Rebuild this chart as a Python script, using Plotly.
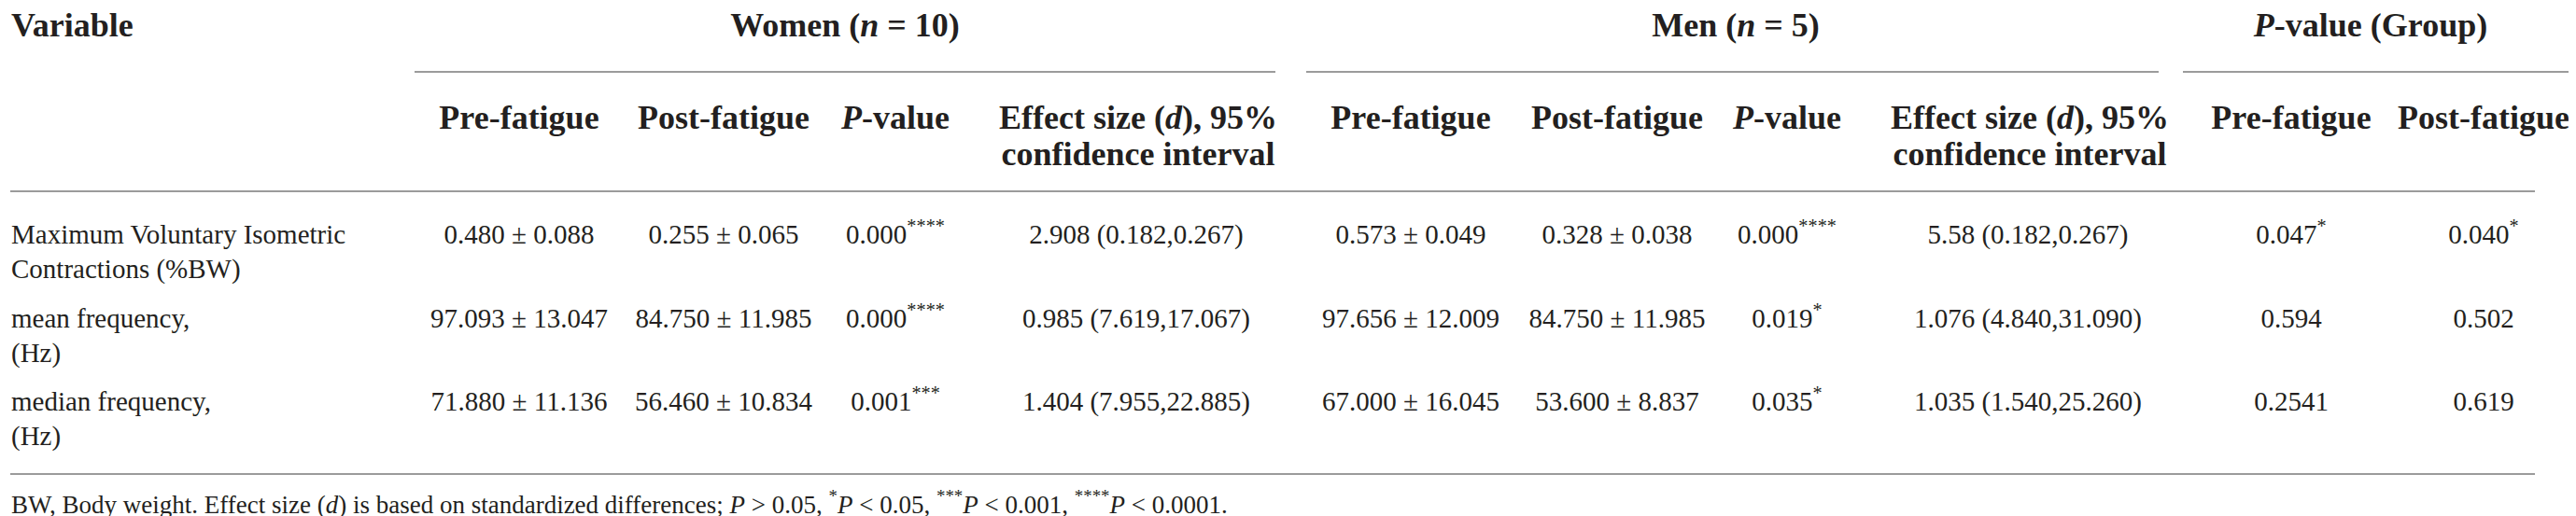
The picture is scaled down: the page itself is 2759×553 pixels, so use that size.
import re
import plotly.graph_objects as go

W, H = 2759, 553
INK = "#231f20"
RULE = "#9b9b9b"
SERIF = "Liberation Serif, Times New Roman, serif"

# Data
var_line1 = ["Maximum Voluntary Isometric", "mean frequency,", "median frequency,"]
var_line2 = ["Contractions (%BW)", "(Hz)", "(Hz)"]

women_pre = ["0.480 ± 0.088", "97.093 ± 13.047", "71.880 ± 11.136"]
women_post = ["0.255 ± 0.065", "84.750 ± 11.985", "56.460 ± 10.834"]
women_p = ["0.000****", "0.000****", "0.001***"]
women_es = ["2.908 (0.182,0.267)", "0.985 (7.619,17.067)", "1.404 (7.955,22.885)"]
men_pre = ["0.573 ± 0.049", "97.656 ± 12.009", "67.000 ± 16.045"]
men_post = ["0.328 ± 0.038", "84.750 ± 11.985", "53.600 ± 8.837"]
men_p = ["0.000****", "0.019*", "0.035*"]
men_es = ["5.58 (0.182,0.267)", "1.076 (4.840,31.090)", "1.035 (1.540,25.260)"]
group_pre = ["0.047*", "0.594", "0.2541"]
group_post = ["0.040*", "0.502", "0.619"]

groups = ["Women (<i>n</i> = 10)", "Men (<i>n</i> = 5)", "<i>P</i>-value (Group)"]
sub_line1 = ["Pre-fatigue", "Post-fatigue", "<i>P</i>-value", "Effect size (<i>d</i>), 95%"] * 2 \
    + ["Pre-fatigue", "Post-fatigue"]
sub_line2 = ["", "", "", "confidence interval"] * 2 + ["", ""]

footnote = ("BW, Body weight. Effect size (<i>d</i>) is based on standardized differences; "
            "<i>P</i> &gt; 0.05, <sup>*</sup><i>P</i> &lt; 0.05, <sup>***</sup><i>P</i> &lt; 0.001, "
            "<sup>****</sup><i>P</i> &lt; 0.0001.")

columns = [women_pre, women_post, women_p, women_es, men_pre, men_post,
           men_p, men_es, group_pre, group_post]

# Layout positions (pixels)
col_x = [548, 767, 951, 1209, 1503, 1724, 1906, 2164, 2446, 2652]
group_x = [897, 1851, 2531]
group_rules = [(436, 1358), (1391, 2304), (2330, 2752)]
row_y = [246, 336, 425]
line_gap = 37
left_x = 4


def stars(s):
    # trailing asterisks as superscript
    m = re.match(r"^(.*?)(\*+)$", s)
    return f"{m.group(1)}<sup>{m.group(2)}</sup>" if m else s


def text_trace(x, y, text, size, pos="middle center"):
    return go.Scatter(x=x, y=y, text=text, mode="text", textposition=pos,
                      textfont=dict(family=SERIF, size=size, color=INK),
                      cliponaxis=False, hoverinfo="skip", showlegend=False)


fig = go.Figure()

# body cells
xs, ys, ts = [], [], []
for j, col in enumerate(columns):
    for i, v in enumerate(col):
        xs.append(col_x[j]); ys.append(row_y[i]); ts.append(stars(v))
fig.add_trace(text_trace(xs, ys, ts, 29))

# variable names
vx, vy, vt = [], [], []
for i in range(len(var_line1)):
    vx += [left_x, left_x]
    vy += [row_y[i], row_y[i] + line_gap]
    vt += [var_line1[i], var_line2[i]]
fig.add_trace(text_trace(vx, vy, vt, 29, "middle right"))

# headers
hx, hy, ht = list(group_x), [22] * len(group_x), [f"<b>{g}</b>" for g in groups]
for j in range(len(sub_line1)):
    hx.append(col_x[j] + (2 if j in (3, 7) else 0)); hy.append(121); ht.append(f"<b>{sub_line1[j]}</b>")
    if sub_line2[j]:
        hx.append(col_x[j] + 2); hy.append(160); ht.append(f"<b>{sub_line2[j]}</b>")
fig.add_trace(text_trace(hx, hy, ht, 36))
fig.add_trace(text_trace([left_x], [22], ["<b>Variable</b>"], 36, "middle right"))

# footnote
fig.add_trace(text_trace([left_x], [535], [footnote], 27, "middle right"))

# rules
for x0, x1 in group_rules:
    fig.add_shape(type="line", x0=x0, x1=x1, y0=69, y1=69, line=dict(color=RULE, width=2))
for yy in (197, 500):
    fig.add_shape(type="line", x0=3, x1=2707, y0=yy, y1=yy, line=dict(color=RULE, width=2))

fig.update_xaxes(range=[0, W], visible=False, fixedrange=True)
fig.update_yaxes(range=[H, 0], visible=False, fixedrange=True)
fig.update_layout(width=W, height=H, margin=dict(l=0, r=0, t=0, b=0),
                  paper_bgcolor="white", plot_bgcolor="white")

fig.write_html("out.html")
